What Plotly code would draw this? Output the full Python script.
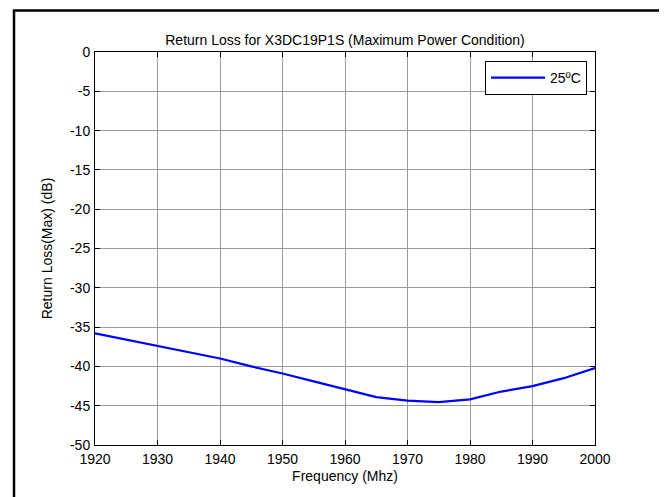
import plotly.graph_objects as go

freq_mhz = [1920, 1925, 1930, 1935, 1940, 1945, 1950, 1955, 1960,
            1965, 1970, 1975, 1980, 1985, 1990, 1995, 2000]
return_loss_db = [-35.8, -36.6, -37.4, -38.2, -39.0, -40.0, -40.9, -41.9, -42.9,
                  -43.9, -44.35, -44.55, -44.2, -43.2, -42.5, -41.5, -40.2]
series_name = "25ºC"
x_ticks = [1920, 1930, 1940, 1950, 1960, 1970, 1980, 1990, 2000]
y_ticks = [0, -5, -10, -15, -20, -25, -30, -35, -40, -45, -50]

W, H = 667, 497
L, R, T, B = 87, 587, 44, 437  # plot area in pixels
pw, ph = R - L, B - T

def px_x(p):
    return (p - L) / pw

def px_y(p):
    return (B - p) / ph

font = dict(family="Liberation Sans, Arial, Helvetica, sans-serif", size=14, color="black")

fig = go.Figure()
fig.add_trace(go.Scatter(x=freq_mhz, y=return_loss_db, mode="lines", name=series_name,
                         line=dict(color="#0000ff", width=2.2)))

axis_common = dict(showline=True, linecolor="black", linewidth=1, mirror="allticks",
                   ticks="inside", ticklen=5, tickcolor="black", showgrid=True,
                   gridcolor="#9a9a9a", gridwidth=1, zeroline=False,
                   tickfont=font)

fig.update_xaxes(range=[1920, 2000], tickvals=x_ticks, ticktext=[str(v) for v in x_ticks],
                 ticklabelstandoff=1,
                 title=dict(text="Frequency (Mhz)", font=font, standoff=5), **axis_common)
fig.update_yaxes(range=[-50, 0], tickvals=y_ticks, ticktext=[str(v) for v in y_ticks],
                 ticklabelstandoff=1,
                 title=dict(text="Return Loss(Max) (dB)", font=font, standoff=14), **axis_common)

fig.update_layout(
    width=W, height=H,
    margin=dict(l=L, r=W - R, t=T, b=H - B, pad=0),
    paper_bgcolor="white", plot_bgcolor="white",
    font=font,
    title=dict(text="Return Loss for X3DC19P1S (Maximum Power Condition)",
               x=(L + pw / 2) / W, xanchor="center",
               y=1 - 32 / H, yanchor="middle", font=font),
    showlegend=True,
    legend=dict(x=px_x(579), y=px_y(53), xanchor="right", yanchor="top",
                bgcolor="white", bordercolor="black", borderwidth=1,
                font=font, itemwidth=54, tracegroupgap=0),
    shapes=[dict(type="rect", xref="paper", yref="paper",
                 x0=px_x(6), x1=px_x(665), y0=px_y(495.5), y1=px_y(2.5),
                 line=dict(color="black", width=2.5), layer="above")],
)

fig.write_html("out.html")
